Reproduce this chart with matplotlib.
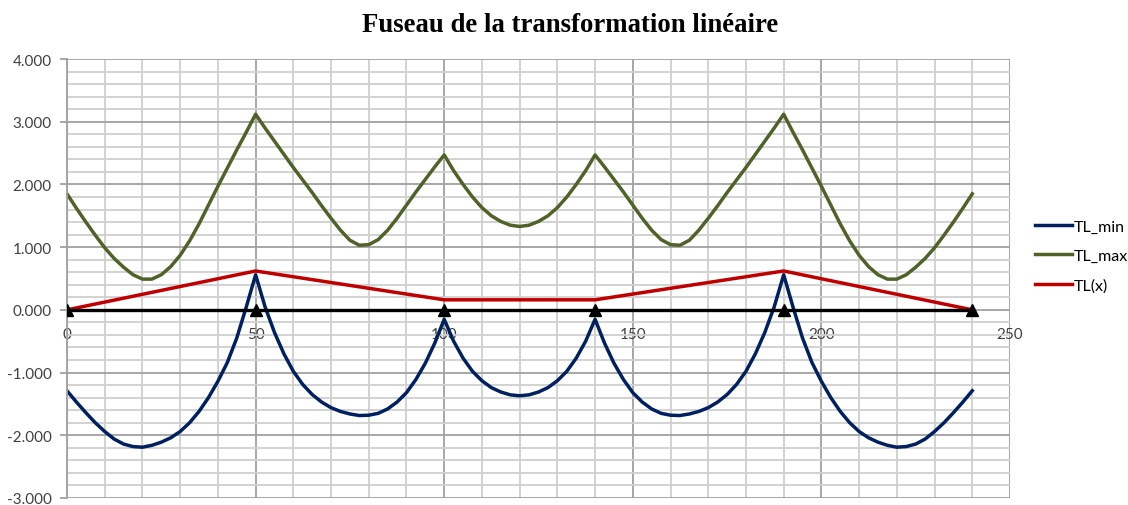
import numpy as np
import matplotlib.pyplot as plt
from matplotlib.ticker import MultipleLocator, FuncFormatter

plt.rcParams['font.family'] = ['Lato', 'DejaVu Sans']
plt.rcParams['axes.unicode_minus'] = False

# abscisses (m), pas de 2.5 de 0 a 240
x = np.linspace(0, 240, 97)

tl_min = [-1.29, -1.47, -1.64, -1.80, -1.94, -2.06, -2.14, -2.18, -2.19, -2.16,
          -2.11, -2.04, -1.94, -1.80, -1.62, -1.40, -1.14, -0.84, -0.45, 0.04, 0.56,
          0.05, -0.36, -0.70, -0.98, -1.19, -1.35, -1.47, -1.56, -1.62, -1.66,
          -1.685, -1.68, -1.65, -1.58, -1.47, -1.32, -1.11, -0.85, -0.53, -0.15,
          -0.50, -0.77, -0.98, -1.13, -1.24, -1.31, -1.355, -1.37,
          -1.355, -1.31, -1.24, -1.13, -0.98, -0.77, -0.50, -0.15,
          -0.53, -0.85, -1.11, -1.32, -1.47, -1.58, -1.65, -1.68, -1.685, -1.66,
          -1.62, -1.56, -1.47, -1.35, -1.19, -0.98, -0.70, -0.36, 0.05, 0.56,
          0.04, -0.45, -0.84, -1.14, -1.40, -1.62, -1.80, -1.94, -2.04, -2.11,
          -2.16, -2.19, -2.18, -2.14, -2.06, -1.94, -1.80, -1.64, -1.47, -1.29]

tl_max = [1.85, 1.62, 1.40, 1.19, 0.99, 0.82, 0.68, 0.56, 0.49, 0.49,
          0.56, 0.69, 0.87, 1.10, 1.37, 1.67, 1.97, 2.26, 2.55, 2.83, 3.12,
          2.90, 2.69, 2.48, 2.27, 2.07, 1.87, 1.66, 1.46, 1.27, 1.11,
          1.03, 1.04, 1.12, 1.27, 1.46, 1.67, 1.88, 2.08, 2.28, 2.47,
          2.22, 2.00, 1.80, 1.63, 1.50, 1.41, 1.35, 1.33,
          1.35, 1.41, 1.50, 1.63, 1.80, 2.00, 2.22, 2.47,
          2.28, 2.08, 1.88, 1.67, 1.46, 1.27, 1.12, 1.04, 1.03, 1.11,
          1.27, 1.46, 1.66, 1.87, 2.07, 2.27, 2.48, 2.69, 2.90, 3.12,
          2.83, 2.55, 2.26, 1.97, 1.67, 1.37, 1.10, 0.87, 0.69, 0.56,
          0.49, 0.49, 0.56, 0.68, 0.82, 0.99, 1.19, 1.40, 1.62, 1.85]

# trace TL(x) : droites entre les appuis
tl_x_pos = [0, 50, 100, 140, 190, 240]
tl_x = [0.0, 0.62, 0.16, 0.16, 0.62, 0.0]

appuis = [0, 50, 100, 140, 190, 240]

fig = plt.figure(figsize=(11.28, 5.06), dpi=100)
ax = fig.add_axes([67 / 1128, 1 - 499 / 506, (1010 - 67) / 1128, (499 - 60) / 506])

ax.plot(x, tl_min, color='#002060', lw=2.5, label='TL_min',
        solid_joinstyle='round')
ax.plot(x, tl_max, color='#4f6228', lw=2.5, label='TL_max',
        solid_joinstyle='round')
ax.plot(tl_x_pos, tl_x, color='#c00000', lw=2.5, label='TL(x)')
ax.plot(appuis, [0] * len(appuis), color='black', lw=2.4, marker='^', ms=9,
        zorder=5)

ax.set_xlim(0, 250)
ax.set_ylim(-3, 4)
ax.xaxis.set_major_locator(MultipleLocator(50))
ax.xaxis.set_minor_locator(MultipleLocator(10))
ax.yaxis.set_major_locator(MultipleLocator(1))
ax.yaxis.set_minor_locator(MultipleLocator(0.2))
ax.yaxis.set_major_formatter(FuncFormatter(lambda v, p: '%.3f' % v))

ax.set_axisbelow(True)
ax.grid(which='major', color='#a0a0a0', lw=1.3)
ax.grid(which='minor', color='#cfcfcf', lw=1.3)

for s in ['top', 'right']:
    ax.spines[s].set_visible(False)
ax.spines['left'].set_color('#a0a0a0')
ax.spines['left'].set_linewidth(1.3)
ax.spines['bottom'].set_position(('data', 0))
ax.spines['bottom'].set_color('none')

ax.tick_params(axis='x', which='both', length=0, pad=12, labelsize=11,
               labelcolor='#404040')
ax.tick_params(axis='y', which='major', length=5, width=1.3, color='#a0a0a0',
               pad=6, labelsize=11, labelcolor='#404040')
ax.tick_params(axis='y', which='minor', length=0)

fig.text(0.505, 1 - 25 / 506, 'Fuseau de la transformation linéaire',
         ha='center', va='center', fontsize=19.3, fontweight='bold',
         family='Liberation Serif')

ax.legend(loc='center left', bbox_to_anchor=(1035 / 1128, 1 - 257 / 506),
          bbox_transform=fig.transFigure, frameon=False, fontsize=11.5,
          handlelength=2.3, handletextpad=0.15, labelspacing=0.95,
          borderpad=0, borderaxespad=0)

fig.savefig('out.png', dpi=100)
